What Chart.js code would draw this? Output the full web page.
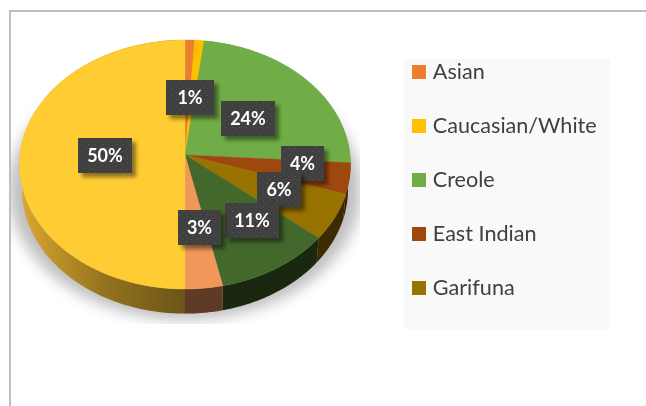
<!DOCTYPE html>
<html><head><meta charset="utf-8">
<style>
html,body{margin:0;padding:0;background:#fff;overflow:hidden}
#wrap{position:relative;width:646px;height:406px}
#frame{position:absolute;left:9px;top:10px;width:637px;height:396px;border-left:2px solid #bfbfbf;border-top:2px solid #bfbfbf;box-sizing:border-box}
canvas{position:absolute;left:0;top:0}
</style>
<script src="https://cdn.jsdelivr.net/npm/chart.js@4/dist/chart.umd.min.js"></script>
</head><body><div id="wrap"><div id="frame"></div><canvas id="c" width="646" height="406"></canvas></div>
<script>
// Only the first five category names are readable in the reference legend.
const categories = ["Asian","Caucasian/White","Creole","East Indian","Garifuna","Slice 6","Slice 7","Slice 8"];
const shares = [1,1,24,4,6,10.6,3.4,50];
const dataLabels = ["1%","","24%","4%","6%","11%","3%","50%"];
const colors = ["#ED7D31","#FFC000","#70AD47","#9E480E","#997300","#43682B","#F1975A","#FFCD33"];
const wallColors = ["#ED7D31","#FFC000","#70AD47","#3a1c05","#3a2b00","#1a280f","#5f3a26",null];
const legendCount = 5;

// Layout of the perspective pie relative to the library's circle
const KX = 165/120, KY = 123.8/120, PERSP = -0.0763, DEPTH = 24.6, LOWER_X = 0.985;
const labelOffsets = [[5,-57.5],null,[63,-36.5],[117.5,8.5],[94,34.5],[67,65.5],[14.5,72.5],[-80,0.5]];
const labelWidths = [48,0,54,43,44,54,43,54];
const BOX_H = 35;

function project(arc, theta, sx, dy){
  const u=Math.cos(theta), v=Math.sin(theta), d=1+PERSP*v, R=arc.outerRadius;
  return [arc.x + KX*R*sx*u/d, arc.y + KY*R*v/d + dy];
}
function samples(a,b){const n=Math.max(2,Math.ceil((b-a)/0.01));const r=[];for(let i=0;i<=n;i++)r.push(a+(b-a)*i/n);return r;}

function dotPattern(ctx){
  const p=document.createElement('canvas');p.width=7;p.height=7;
  const g=p.getContext('2d');
  g.fillStyle='#404040';g.fillRect(0,0,7,7);
  g.fillStyle='#555555';g.fillRect(1,1,1,1);g.fillRect(4,4,1,1);
  return ctx.createPattern(p,'repeat');
}

const pie3d = {
  id:'pie3d',
  beforeLayout(chart){
    const L=chart.legend;
    if(!L._zeroed){const f=L.fit;L.fit=function(){f.call(this);this.width=0;};L._zeroed=true;}
  },
  beforeDraw(chart){
    const c=chart.ctx;
    // plate behind legend
    c.fillStyle='#f9f9f9';c.fillRect(404,59,206,270);
    const L=chart.legend; L.left=383.6; L.top=28.8; L.right=640; L.bottom=400;
  },
  beforeDatasetDraw(chart,args){
    const c=chart.ctx, arcs=chart.getDatasetMeta(args.index).data, first=arcs[0];
    // soft cast shadow, cut off by the bitmap's edge
    c.save();
    c.beginPath();c.rect(11,60,349,264);c.clip();
    c.filter='blur(7px)';
    c.fillStyle='rgba(0,0,0,0.25)';
    c.beginPath();c.ellipse(first.x,first.y+35,176,130,0,0,Math.PI*2);c.fill();
    c.restore();
    // side wall
    arcs.forEach((arc,i)=>{
      const t=samples(arc.startAngle,arc.endAngle);
      c.beginPath();
      t.forEach((a,k)=>{const p=project(arc,a,1,0);k?c.lineTo(p[0],p[1]):c.moveTo(p[0],p[1]);});
      t.slice().reverse().forEach(a=>{const p=project(arc,a,LOWER_X,DEPTH);c.lineTo(p[0],p[1]);});
      c.closePath();
      let fill=wallColors[i];
      if(!fill){
        const g=c.createLinearGradient(arc.x-165,0,arc.x,0);
        g.addColorStop(0,'#d9a92f');g.addColorStop(0.5,'#96731f');g.addColorStop(1,'#6b5518');
        fill=g;
      }
      c.fillStyle=fill;c.fill();
    });
    // top face
    arcs.forEach((arc,i)=>{
      const t=samples(arc.startAngle,arc.endAngle);
      c.beginPath();c.moveTo(arc.x,arc.y);
      t.forEach(a=>{const p=project(arc,a,1,0);c.lineTo(p[0],p[1]);});
      c.closePath();
      c.fillStyle=colors[i];c.strokeStyle=colors[i];c.lineWidth=0.4;c.fill();c.stroke();
    });
    return false;
  },
  afterDatasetsDraw(chart){
    const c=chart.ctx, arcs=chart.getDatasetMeta(0).data, pat=dotPattern(c);
    c.save();
    c.font='bold 18px Lato';c.textAlign='center';c.textBaseline='middle';
    arcs.forEach((arc,i)=>{
      if(!dataLabels[i])return;
      const [ox,oy]=labelOffsets[i];
      const w=labelWidths[i];
      const cx=arc.x+ox, cy=arc.y+oy;
      c.save();
      c.shadowColor='rgba(0,0,0,0.45)';c.shadowBlur=4;c.shadowOffsetX=4;c.shadowOffsetY=4;
      c.fillStyle='#404040';c.fillRect(cx-w/2,cy-BOX_H/2,w,BOX_H);
      c.restore();
      c.fillStyle=pat;c.fillRect(cx-w/2,cy-BOX_H/2,w,BOX_H);
      c.fillStyle='#fff';c.fillText(dataLabels[i],cx,cy+1);
    });
    c.restore();
  }
};

new Chart(document.getElementById('c'),{
  type:'pie',
  data:{labels:categories,datasets:[{data:shares,backgroundColor:colors,borderWidth:0}]},
  plugins:[pie3d],
  options:{
    responsive:false,animation:false,
    layout:{padding:{left:65,right:341,top:35,bottom:131}},
    plugins:{
      tooltip:{enabled:false},
      legend:{display:true,position:'right',align:'start',
        labels:{color:'#404040',font:{family:'Lato',size:21.6},usePointStyle:true,pointStyle:'rect',
          boxWidth:6,boxHeight:14,padding:32.4,
          filter:(item)=>item.index<legendCount}}
    }
  }
});
</script></body></html>
